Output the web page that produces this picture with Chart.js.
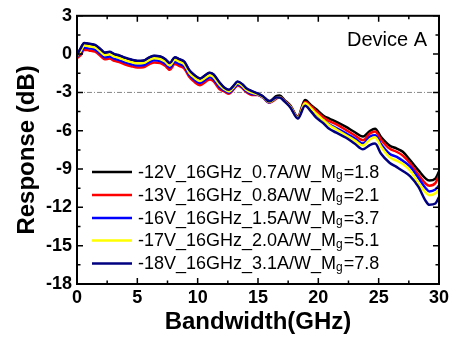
<!DOCTYPE html>
<html>
<head>
<meta charset="utf-8">
<script src="https://cdn.jsdelivr.net/npm/chart.js@4"></script>
<style>
html,body{margin:0;padding:0;background:#fff;}
#c{display:block;}
</style>
</head>
<body>
<canvas id="c" width="452" height="349"></canvas>
<script>
// ---- data ----
const freqGHz = [0,0.3,0.6,1.0,1.5,2.0,2.3,2.7,3.1,3.5,4.0,4.5,5.0,5.5,6.0,6.4,6.9,7.3,7.7,8.1,8.5,8.9,9.3,9.7,10.2,10.7,11.0,11.3,11.8,12.2,12.6,13.0,13.3,13.7,14.0,14.5,15.0,15.4,15.95,16.5,16.8,17.2,17.7,18.3,18.9,19.4,19.8,20.4,20.9,21.5,22.3,23.0,23.7,24.3,24.7,25.2,25.9,26.5,27.0,27.6,28.3,28.9,29.2,29.7,30];

const resp12V = [-0.12,0.42,0.85,0.79,0.69,0.32,0.09,0.15,-0.03,-0.13,-0.31,-0.45,-0.55,-0.53,-0.28,-0.15,-0.21,-0.41,-0.73,-0.28,-0.43,-0.63,-1.28,-1.65,-1.93,-1.63,-1.48,-1.61,-2.23,-2.65,-2.83,-2.48,-2.18,-2.38,-2.68,-2.93,-3.12,-3.3,-3.68,-3.3,-3.25,-3.6,-4.05,-4.9,-3.6,-4.0,-4.3,-4.8,-5.05,-5.3,-5.7,-6.1,-6.45,-6.0,-5.85,-6.5,-7.15,-7.4,-7.65,-8.3,-9.1,-9.75,-9.9,-9.75,-9.2];
const resp13V = [-0.3,-0.08,0.35,0.29,0.19,-0.18,-0.41,-0.35,-0.53,-0.63,-0.81,-0.95,-1.05,-1.03,-0.78,-0.65,-0.71,-0.91,-1.23,-0.78,-0.93,-1.13,-1.78,-2.15,-2.43,-2.13,-1.98,-2.11,-2.73,-2.92,-3.1,-2.75,-2.45,-2.65,-2.95,-3.2,-3.2,-3.4,-3.8,-3.5,-3.35,-3.65,-4.1,-4.95,-3.75,-4.1,-4.45,-4.95,-5.25,-5.5,-5.95,-6.35,-6.75,-6.2,-6.05,-6.7,-7.4,-7.65,-7.95,-8.55,-9.45,-10.15,-10.3,-10.1,-9.5];
const resp16V = [-0.2,0.08,0.51,0.45,0.35,-0.02,-0.25,-0.19,-0.37,-0.47,-0.65,-0.79,-0.89,-0.87,-0.62,-0.49,-0.55,-0.75,-1.07,-0.62,-0.77,-0.97,-1.62,-1.99,-2.27,-1.97,-1.82,-1.95,-2.57,-2.84,-3.02,-2.67,-2.37,-2.57,-2.87,-3.12,-3.18,-3.38,-3.78,-3.45,-3.4,-3.7,-4.15,-5.0,-3.9,-4.3,-4.7,-5.15,-5.5,-5.8,-6.2,-6.6,-7.0,-6.45,-6.35,-7.05,-7.8,-8.05,-8.35,-8.8,-9.7,-10.5,-10.75,-10.6,-10.3];
const resp17V = [-0.15,0.25,0.68,0.62,0.52,0.15,-0.08,-0.02,-0.2,-0.3,-0.48,-0.62,-0.72,-0.7,-0.45,-0.32,-0.38,-0.58,-0.9,-0.45,-0.6,-0.8,-1.45,-1.82,-2.1,-1.8,-1.65,-1.78,-2.4,-2.74,-2.92,-2.57,-2.27,-2.47,-2.77,-3.02,-3.15,-3.35,-3.75,-3.42,-3.38,-3.7,-4.15,-5.0,-3.85,-4.25,-4.65,-5.15,-5.55,-5.9,-6.35,-6.75,-7.15,-6.65,-6.5,-7.25,-8.07,-8.35,-8.6,-9.1,-10.1,-10.85,-11.05,-10.9,-10.55];
const resp18V = [-0.1,0.45,0.88,0.82,0.72,0.35,0.12,0.18,0.0,-0.1,-0.28,-0.42,-0.52,-0.5,-0.25,-0.12,-0.18,-0.38,-0.7,-0.25,-0.4,-0.6,-1.25,-1.62,-1.9,-1.6,-1.45,-1.58,-2.2,-2.62,-2.8,-2.45,-2.15,-2.35,-2.65,-2.9,-3.1,-3.3,-3.7,-3.4,-3.4,-3.7,-4.2,-5.05,-4.05,-4.5,-4.95,-5.4,-5.85,-6.15,-6.55,-7.0,-7.45,-7.1,-7.0,-7.8,-8.5,-8.85,-9.15,-9.55,-10.4,-11.5,-11.8,-11.7,-11.2];

const seriesLabels = ["-12V_16GHz_0.7A/W_Mg=1.8","-13V_16GHz_0.8A/W_Mg=2.1","-16V_16GHz_1.5A/W_Mg=3.7","-17V_16GHz_2.0A/W_Mg=5.1","-18V_16GHz_3.1A/W_Mg=7.8"];
const seriesValues = [resp12V, resp13V, resp16V, resp17V, resp18V];
const seriesColors = ["#000000","#ff0000","#0000ff","#ffff00","#000080"];
const xTicks = [0,5,10,15,20,25,30];
const yTicks = [-18,-15,-12,-9,-6,-3,0,3];
const refLevel = -3;
const annotation = "Device A";

const FONT = "'Liberation Sans', Arial, sans-serif";

const datasets = seriesValues.map((vals, i) => ({
  label: seriesLabels[i],
  data: vals.map((v, j) => ({x: freqGHz[j], y: v})),
  borderColor: seriesColors[i],
  backgroundColor: seriesColors[i],
  borderWidth: 2.5,
  pointRadius: 0,
  fill: false,
  cubicInterpolationMode: 'monotone',
  order: seriesValues.length - 1 - i
}));

const framePlugin = {
  id: 'frame',
  beforeDatasetsDraw(chart) {
    const {ctx, chartArea: a, scales: {y}} = chart;
    const yy = y.getPixelForValue(refLevel);
    ctx.save();
    ctx.strokeStyle = '#888';
    ctx.lineWidth = 1;
    ctx.setLineDash([5,2,1,2]);
    ctx.beginPath();
    ctx.moveTo(a.left, yy); ctx.lineTo(a.right, yy);
    ctx.stroke();
    ctx.restore();
  },
  afterDraw(chart) {
    const {ctx, chartArea: a, scales: {x, y}} = chart;
    ctx.save();
    ctx.strokeStyle = '#000';
    ctx.lineWidth = 2;
    ctx.strokeRect(a.left, a.top, a.right - a.left, a.bottom - a.top);
    ctx.lineWidth = 1.5;
    ctx.beginPath();
    for (let v = x.min; v <= x.max + 1e-6; v += 2.5) {
      const px = x.getPixelForValue(v);
      const len = (Math.abs(v % 5) < 1e-6) ? 6 : 3.5;
      ctx.moveTo(px, a.bottom); ctx.lineTo(px, a.bottom - len);
      ctx.moveTo(px, a.top); ctx.lineTo(px, a.top + len);
    }
    for (let v = y.min; v <= y.max + 1e-6; v += 1.5) {
      const py = y.getPixelForValue(v);
      const len = (Math.abs(v % 3) < 1e-6) ? 6 : 3.5;
      ctx.moveTo(a.left, py); ctx.lineTo(a.left + len, py);
      ctx.moveTo(a.right, py); ctx.lineTo(a.right - len, py);
    }
    ctx.stroke();

    // annotation
    ctx.fillStyle = '#000';
    ctx.font = "20px " + FONT;
    ctx.textAlign = 'right';
    ctx.textBaseline = 'middle';
    ctx.fillText(annotation, a.right - 12, 40);

    // legend
    const rowY = [172, 195, 218, 240.5, 263.5];
    chart.data.datasets.forEach((ds, i) => {
      const ry = rowY[i];
      ctx.strokeStyle = ds.borderColor;
      ctx.lineWidth = 2.5;
      ctx.beginPath();
      ctx.moveTo(92, ry); ctx.lineTo(132, ry);
      ctx.stroke();
      ctx.fillStyle = '#000';
      ctx.textAlign = 'left';
      ctx.textBaseline = 'middle';
      const parts = ds.label.split('Mg=');
      let tx = 138;
      ctx.font = "18px " + FONT;
      const p1 = parts[0] + 'M';
      ctx.fillText(p1, tx, ry + 1);
      tx += ctx.measureText(p1).width;
      ctx.font = "12px " + FONT;
      ctx.fillText('g', tx, ry + 4);
      tx += ctx.measureText('g').width + 1;
      ctx.font = "18px " + FONT;
      ctx.fillText('=' + parts[1], tx, ry + 1);
    });
    ctx.restore();
  }
};

new Chart(document.getElementById('c'), {
  type: 'line',
  data: { datasets },
  options: {
    responsive: false,
    animation: false,
    layout: { padding: { top: 15, right: 12, left: 0, bottom: 0 } },
    plugins: { legend: { display: false }, tooltip: { enabled: false } },
    scales: {
      x: {
        type: 'linear', min: 0, max: 30,
        afterFit(s) { s.height = 65; },
        afterBuildTicks(s) { s.ticks = xTicks.map(v => ({value: v})); },
        grid: { display: false, drawTicks: false },
        border: { display: false },
        ticks: { color: '#000', padding: 3, font: { family: FONT, size: 18, weight: 'bold' }, maxRotation: 0 },
        title: { display: true, text: 'Bandwidth(GHz)', color: '#000', padding: { top: 0, bottom: 12.6 }, font: { family: FONT, size: 24, weight: 'bold', lineHeight: 1.2 } }
      },
      y: {
        type: 'linear', min: -18, max: 3,
        afterFit(s) { s.width = 77; },
        afterBuildTicks(s) { s.ticks = yTicks.map(v => ({value: v})); },
        grid: { display: false, drawTicks: false },
        border: { display: false },
        ticks: { color: '#000', padding: 5, font: { family: FONT, size: 18, weight: 'bold' } },
        title: { display: true, text: 'Response (dB)', color: '#000', padding: { top: 12.6, bottom: 0 }, font: { family: FONT, size: 24, weight: 'bold', lineHeight: 1.2 } }
      }
    }
  },
  plugins: [framePlugin]
});
</script>
</body>
</html>
